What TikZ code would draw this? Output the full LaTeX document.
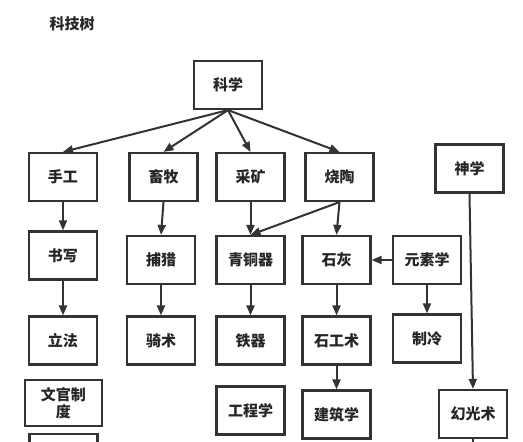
\documentclass[tikz,border=0pt]{standalone}
\usepackage{fontspec}
\setmainfont{Noto Sans CJK SC}
\usetikzlibrary{arrows.meta,positioning}
\definecolor{dg}{HTML}{333333}
\tikzset{
    tech/.style =   {rectangle,
                    fill=white,
                    draw=dg,
                    text=black!85,
                    line width=2.2pt,
                    minimum width=68pt,
                    minimum height=48pt,
                    inner sep=2pt,
                    font=\fontsize{15}{17}\selectfont\bfseries},
    caption/.style = {text=black!85,
                    font=\fontsize{15}{17}\selectfont\bfseries},
    link/.style =   {draw=dg,
                    line width=2pt,
                    -{Triangle[length=10pt,width=8pt]}},
    plain/.style =  {draw=dg,
                    line width=2pt}}

\begin{document}
\begin{tikzpicture}[x=1pt,y=-1pt]
    \useasboundingbox (0,0) rectangle (523,442);
    \clip (0,0) rectangle (523,442);
    \node[caption] (title) at (72,24) {科技树};
    % top
    \node[tech] (kexue)    at (228,85)    {科学};
    % second row
    \node[tech] (shougong) at (63,177)    {手工};
    \node[tech] (xumu)     at (163.5,177) {畜牧};
    \node[tech] (caikuang) at (250.5,177) {采矿};
    \node[tech] (shaotao)  at (339.5,177) {烧陶};
    \node[tech] (shenxue)  at (469.5,168.5) {神学};
    % third row
    \node[tech] (shuxie)   at (63,255.5)  {书写};
    \node[tech] (bulie)    at (161,260)   {捕猎};
    \node[tech] (qingtong) at (250.5,260) {青铜器};
    \node[tech] (shihui)   at (336.5,260) {石灰};
    \node[tech] (yuansu)   at (427,260)   {元素学};
    % fourth row
    \node[tech] (lifa)     at (63,340.5)  {立法};
    \node[tech] (qishu)    at (161,340.5) {骑术};
    \node[tech] (tieqi)    at (250.5,340.5) {铁器};
    \node[tech] (shigong)  at (336.5,340.5) {石工术};
    \node[tech] (zhileng)  at (427,338.5) {制冷};
    % fifth row
    \node[tech, minimum width=77pt, minimum height=46pt, align=center]
                (wenguan)  at (63.5,403)  {文官制\\度};
    \node[tech] (gongcheng) at (250.5,410.5) {工程学};
    \node[tech] (jianzhu)  at (336.5,414.5) {建筑学};
    \node[tech] (huanguang) at (473,414)  {幻光术};
    \node[tech, anchor=north] (next) at (63.5,433) {};
    \coordinate (huanout) at (473,450);

    \path (kexue.south) edge [link] (shougong.north)
                        edge [link] (xumu.north)
                        edge [link] (caikuang.north)
                        edge [link] (shaotao.north);
    \path (shougong) edge [link] (shuxie)
          (xumu.south) edge [link] (bulie.north)
          (caikuang) edge [link] (qingtong)
          (shaotao.south) edge [link] (qingtong.north)
          (shaotao.south) edge [link] (shihui.north)
          (yuansu) edge [link] (shihui)
          (shenxue.south) edge [link] (huanguang.north);
    \path (shuxie) edge [link] (lifa)
          (bulie) edge [link] (qishu)
          (qingtong) edge [link] (tieqi)
          (shihui) edge [link] (shigong)
          (yuansu) edge [link] (zhileng)
          (shigong) edge [link] (jianzhu);
    \draw [plain] (huanguang.south) -- (huanout);
\end{tikzpicture}
\end{document}
